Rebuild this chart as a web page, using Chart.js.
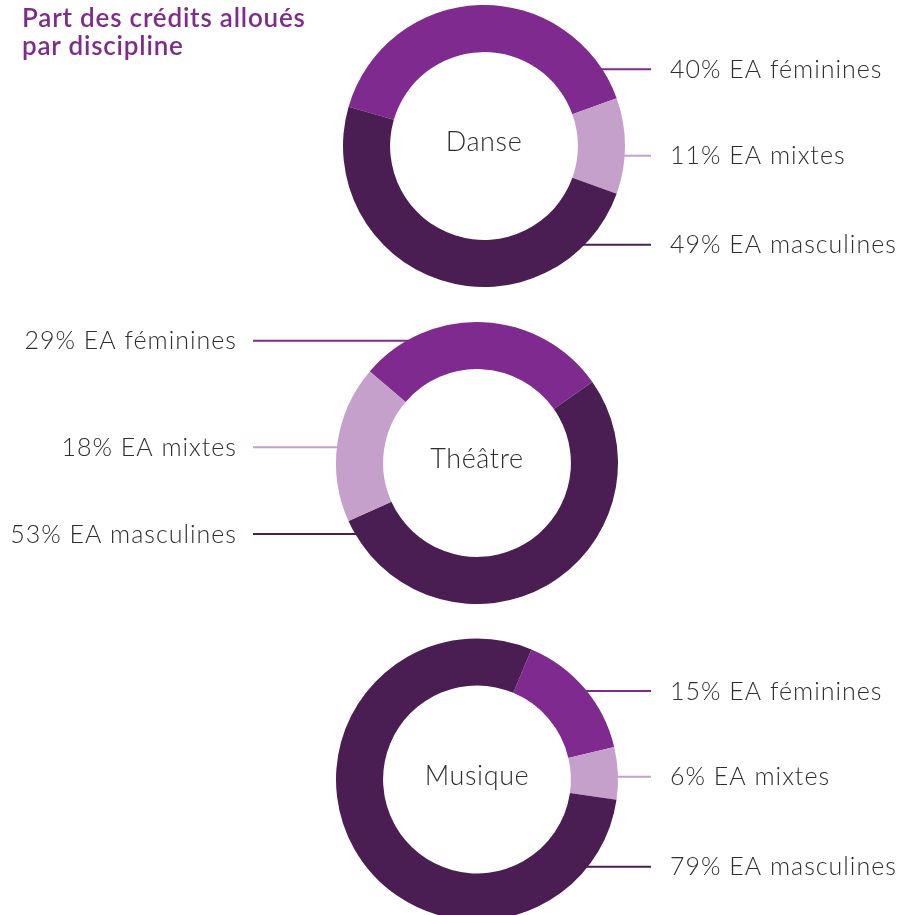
<!DOCTYPE html>
<html lang="fr">
<head>
<meta charset="utf-8">
<script src="https://cdn.jsdelivr.net/npm/chart.js@4/dist/chart.umd.min.js"></script>
<style>
  html, body { margin: 0; padding: 0; background: #fff; }
  #page { position: relative; width: 909px; height: 915px; overflow: hidden; }
  #title { position: absolute; left: 22px; top: 3px; margin: 0; font: 600 26px/28px Lato, sans-serif; letter-spacing: 0.8px; color: #7f2b8e; z-index: 2; }
  .slot { position: relative; width: 909px; }
  .slot canvas { display: block; }
</style>
</head>
<body>
<div id="page">
  <h1 id="title">Part des crédits alloués<br>par discipline</h1>
  <div class="slot" style="height:305px"><canvas id="c0"></canvas></div>
  <div class="slot" style="height:316px"><canvas id="c1"></canvas></div>
  <div class="slot" style="height:294px"><canvas id="c2"></canvas></div>
</div>
<script>
// categories and values
const categories  = ['EA féminines', 'EA mixtes', 'EA masculines'];
const disciplines = ['Danse', 'Théâtre', 'Musique'];
const danse   = [40, 11, 49];
const theatre = [29, 18, 53];
const musique = [15, 6, 79];

const colors    = ['#7f2a8e', '#c4a0ca', '#4a1e53'];
const textColor = '#2e2e2e';

// layout for each ring: center, start angle, segment order, label side / offsets
const rings = [
  { values: danse,   cx: 484, cy: 146, rot: -73.8, order: [0, 1, 2], side: 'right', dy: [-76.7, 9.7, 98.7] },
  { values: theatre, cx: 477, cy: 158, rot: -49.5, order: [0, 2, 1], side: 'left',  dy: [-122.3, -15.7, 71] },
  { values: musique, cx: 477, cy: 158.5, rot: 22.7, order: [0, 1, 2], side: 'right', dy: [-88.5, -2.8, 87.2] }
];

const sideLabels = {
  id: 'sideLabels',
  afterDraw(chart, args, o) {
    const ctx = chart.ctx;
    const arc = chart.getDatasetMeta(0).data[0];
    const cx = arc.x, cy = arc.y, R = arc.outerRadius;
    ctx.save();
    ctx.fillStyle = textColor;
    ctx.font = '300 27px Lato, sans-serif';
    ctx.letterSpacing = '0.6px';
    ctx.textAlign = 'center';
    ctx.fillText(o.name, cx, cy + 5);

    ctx.font = '300 25px Lato, sans-serif';
    ctx.letterSpacing = '1px';
    o.values.forEach((v, i) => {
      const y = cy + o.dy[i];
      const dx = Math.sqrt(Math.max(R * R - o.dy[i] * o.dy[i], 0));
      ctx.strokeStyle = colors[i];
      ctx.lineWidth = 2;
      ctx.beginPath();
      if (o.side === 'right') {
        ctx.moveTo(cx + dx - 2, y);
        ctx.lineTo(651, y);
      } else {
        ctx.moveTo(253, y);
        ctx.lineTo(cx - dx + 2, y);
      }
      ctx.stroke();
      ctx.textAlign = o.side === 'right' ? 'left' : 'right';
      ctx.fillText(v + '% ' + categories[i], o.side === 'right' ? 670 : 237, y + 8.5);
    });
    ctx.restore();
  }
};

rings.forEach((r, k) => {
  const cv = document.getElementById('c' + k);
  const H = cv.parentNode.clientHeight;
  new Chart(cv, {
    type: 'doughnut',
    data: {
      labels: r.order.map(i => categories[i]),
      datasets: [{
        data: r.order.map(i => r.values[i]),
        backgroundColor: r.order.map(i => colors[i]),
        borderWidth: 0,
        hoverOffset: 0,
        radius: 141,
        cutout: '66.6%'
      }]
    },
    options: {
      responsive: true,
      maintainAspectRatio: false,
      animation: false,
      rotation: r.rot,
      events: [],
      layout: { padding: { left: r.cx - 100, right: 909 - r.cx - 100, top: r.cy - 100, bottom: H - r.cy - 100 } },
      plugins: {
        legend: { display: false },
        tooltip: { enabled: false },
        sideLabels: { name: disciplines[k], values: r.values, side: r.side, dy: r.dy }
      }
    },
    plugins: [sideLabels]
  });
});
</script>
</body>
</html>
